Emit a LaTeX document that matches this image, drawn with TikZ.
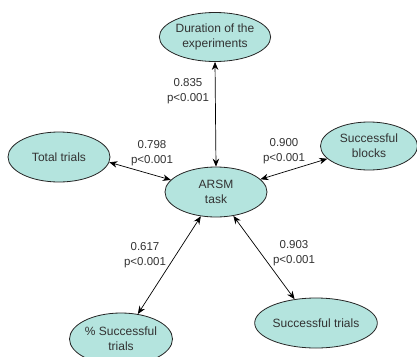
\documentclass[tikz,border=0pt]{standalone}
\usepackage{fontspec}
\setmainfont{Liberation Sans}
\usetikzlibrary{shapes.geometric, arrows.meta}
\definecolor{varfill}{RGB}{180,228,222}
\definecolor{textgray}{RGB}{50,50,50}

\begin{document}
\begin{tikzpicture}[x=1pt, y=-1pt, line width=0.8pt,
    var/.style={ellipse, draw=black!85, fill=varfill, minimum width=102pt, minimum height=50pt,
        inner sep=0pt, align=center, text=textgray, font=\fontsize{12}{15}\selectfont},
    coef/.style={align=center, text=textgray, inner sep=0pt, font=\fontsize{11.5}{15}\selectfont},
    link/.style={{Stealth[length=8pt,width=6.5pt]}-{Stealth[length=8pt,width=6.5pt]}, line width=0.7pt}]
        \useasboundingbox (0,0) rectangle (417,356);

        % Variables
        \node[var] (task) at (216,192) {ARSM\\task};
        \node[var, minimum width=104pt, minimum height=49pt] (duration) at (215,37) {Duration of the\\experiments};
        \node[var] (total) at (59,157) {Total trials};
        \node[var, minimum width=97pt, minimum height=48pt] (blocks) at (369,146) {Successful\\blocks};
        \node[var, minimum width=103pt, minimum height=52pt] (pct) at (121,339) {\% Successful\\trials};
        \node[var, minimum width=108pt] (succ) at (316,323) {Successful trials};

        % Correlations
        \draw[link] (duration.south) -- (task.north);
        \draw[link] (total.-6) -- (task.165);
        \draw[link] (blocks.-163) -- (task.16);
        \draw[link] (pct.56) -- (task.-122);
        \draw[link] (succ.132) -- (task.-54);

        % Labels
        \node[coef] (r1) at (188,91) {0.835\\p<0.001};
        \node[coef] (r2) at (152,153) {0.798\\p<0.001};
        \node[coef] (r3) at (284,151) {0.900\\p<0.001};
        \node[coef] (r4) at (145,255) {0.617\\p<0.001};
        \node[coef] (r5) at (294,253) {0.903\\p<0.001};
\end{tikzpicture}
\end{document}
